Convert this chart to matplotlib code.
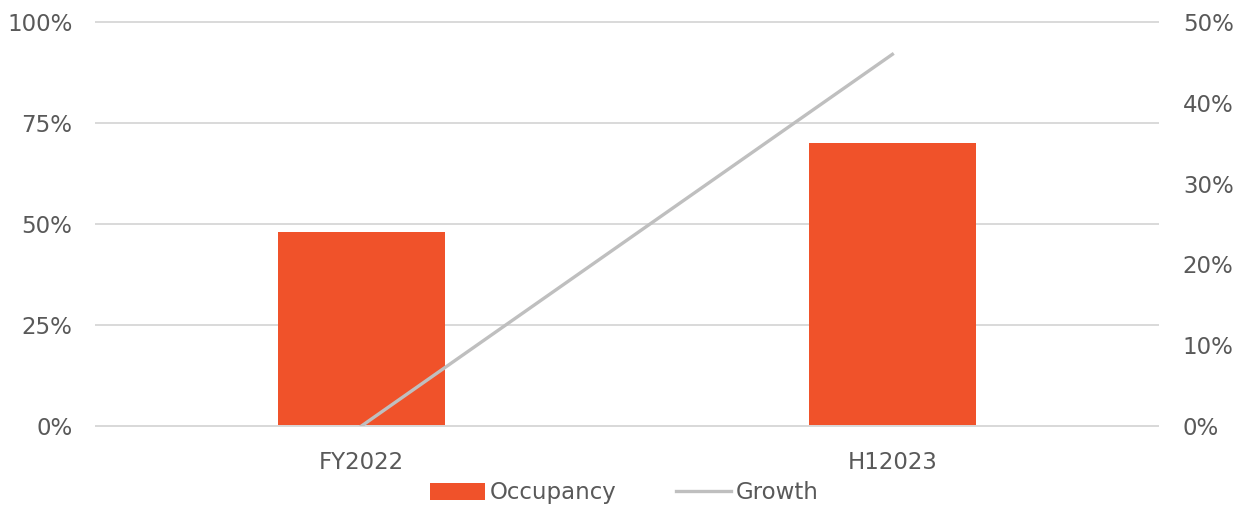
import matplotlib
matplotlib.use("Agg")
import matplotlib.pyplot as plt
from matplotlib.ticker import FuncFormatter, FixedLocator

categories = ["FY2022", "H12023"]
occupancy = [48, 70]
growth = [0, 46]

bar_color = "#F0522A"
line_color = "#BFBFBF"
text_color = "#595959"
grid_color = "#D9D9D9"

plt.rcParams['font.family'] = ['DejaVu Sans']
fig = plt.figure(figsize=(12.49, 5.12), dpi=100)
ax = fig.add_axes([0.0769, 0.168, 0.927 - 0.0769, 0.957 - 0.168])
ax2 = ax.twinx()

x = list(range(len(categories)))
ax.bar(x, occupancy, width=0.314, color=bar_color, label="Occupancy", zorder=2)
ax2.plot(x, growth, color=line_color, lw=2.4, label="Growth", zorder=3)

ax.set_xlim(-0.5, 1.5)
ax.set_ylim(0, 100)
ax2.set_ylim(0, 50)
ax.yaxis.set_major_locator(FixedLocator([0, 25, 50, 75, 100]))
ax2.yaxis.set_major_locator(FixedLocator([0, 10, 20, 30, 40, 50]))
fmt = FuncFormatter(lambda v, p: f"{v:.0f}%")
ax.yaxis.set_major_formatter(fmt)
ax2.yaxis.set_major_formatter(fmt)
ax.set_xticks(x)
ax.set_xticklabels(categories)

ax.grid(axis='y', color=grid_color, lw=1.4, zorder=0)
for gl in ax.get_ygridlines():
    gl.set_clip_on(False)
ax.set_axisbelow(True)
for a in (ax, ax2):
    for s in a.spines.values():
        s.set_visible(False)
    a.tick_params(length=0, labelsize=16.5, labelcolor=text_color)
ax.spines['bottom'].set_visible(True)
ax.spines['bottom'].set_color(grid_color)
ax.spines['bottom'].set_linewidth(1.4)
ax.tick_params(axis='y', pad=17)
ax2.tick_params(axis='y', pad=18)
ax.tick_params(axis='x', pad=18)

h1, l1 = ax.get_legend_handles_labels()
h2, l2 = ax2.get_legend_handles_labels()
fig.legend(h1 + h2, l1 + l2, loc='lower center', bbox_to_anchor=(0.5, -0.025), ncol=2,
           frameon=False, fontsize=16.5, labelcolor=text_color, handlelength=2.4,
           handleheight=0.75, handletextpad=0.2, columnspacing=2.6)

fig.savefig("out.png", dpi=100)
